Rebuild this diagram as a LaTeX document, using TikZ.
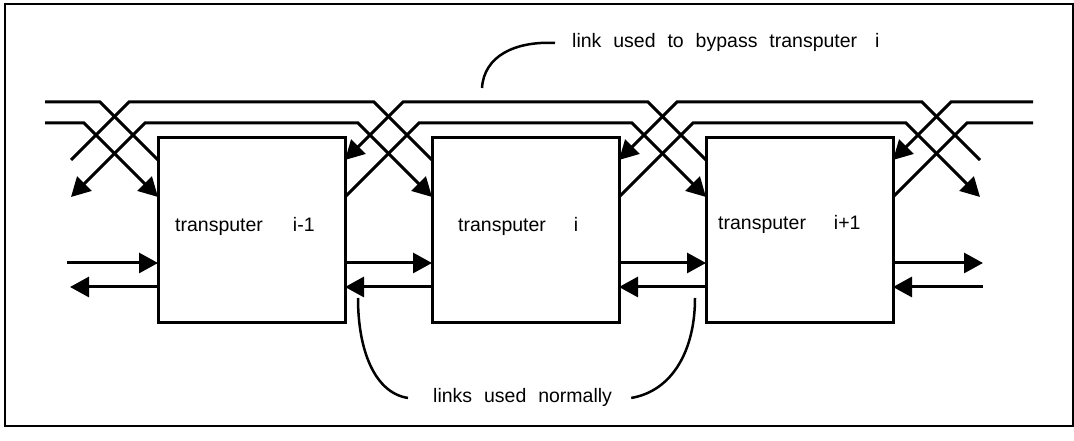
\documentclass[tikz,border=0pt]{standalone}
\usepackage{fontspec}
\setmainfont{Liberation Sans}[WordSpace=2.2]
\usetikzlibrary{calc,positioning,arrows.meta}

\tikzset{
  tbox/.style={draw, line width=3pt, minimum width=187pt, minimum height=185pt, outer sep=0pt},
  link/.style={line width=3pt},
  linkarrow/.style={-{Triangle[length=19pt,width=20pt]}},
  note/.style={line width=2.5pt},
  lbl/.style={inner sep=0pt, font=\fontsize{19.5}{22}\selectfont}
}

\begin{document}
\begin{tikzpicture}[x=1pt, y=1pt]
  \useasboundingbox (0,0) rectangle (1074,441);
  \draw[line width=1.5pt] (5,15) rectangle (1073,437);

  % levels
  \coordinate (up) at (0,339);
  \coordinate (lo) at (0,318);
  \coordinate (ha) at (0,281);
  \coordinate (hb) at (0,244);
  \coordinate (hin) at (0,178);
  \coordinate (hout) at (0,154);

  % transputers
  \node[tbox] (t1) at (251.5,210.5) {};
  \node[tbox, right=87pt of t1] (t2) {};
  \node[tbox, right=87pt of t2] (t3) {};

  \node[lbl, anchor=base west] (n1) at (175,209) {transputer\hspace{30pt}i-1};
  \node[lbl, anchor=base west] (n2) at (458,209) {transputer\hspace{28pt}i};
  \node[lbl, anchor=base west] (n3) at (718,211) {transputer\hspace{28pt}i+1};

  % free ends
  \coordinate (w0) at (71,210.5);
  \coordinate (e4) at (980,210.5);
  \coordinate (wu) at (45,339);
  \coordinate (wl) at (45,318);
  \coordinate (eu) at (1033,339);
  \coordinate (el) at (1033,318);
  \coordinate (wa) at (67,178);
  \coordinate (wb) at (70,154);
  \coordinate (ea) at (983,178);
  \coordinate (eb) at (983,154);

  % bypass links
  \draw[link] (wu) -- ($(t1.west |- up)+(-58,0)$) -- (t1.west |- ha);
  \draw[link, linkarrow] (wl) -- ($(t1.west |- lo)+(-74,0)$) -- (t1.west |- hb);

  \draw[link] (w0 |- ha) -- ($(w0 |- up)+(58,0)$) -- ($(t2.west |- up)+(-58,0)$) -- (t2.west |- ha);
  \draw[link, {Triangle[length=19pt,width=20pt]}-{Triangle[length=19pt,width=20pt]}]
    (w0 |- hb) -- ($(w0 |- lo)+(74,0)$) -- ($(t2.west |- lo)+(-74,0)$) -- (t2.west |- hb);

  \draw[link, linkarrow] (t3.west |- ha) -- ($(t3.west |- up)+(-58,0)$) -- ($(t1.east |- up)+(58,0)$) -- (t1.east |- ha);
  \draw[link, linkarrow] (t1.east |- hb) -- ($(t1.east |- lo)+(74,0)$) -- ($(t3.west |- lo)+(-74,0)$) -- (t3.west |- hb);

  \draw[link, linkarrow] (e4 |- ha) -- ($(e4 |- up)+(-58,0)$) -- ($(t2.east |- up)+(58,0)$) -- (t2.east |- ha);
  \draw[link, linkarrow] (t2.east |- hb) -- ($(t2.east |- lo)+(74,0)$) -- ($(e4 |- lo)+(-74,0)$) -- (e4 |- hb);

  \draw[link, linkarrow] (eu) -- ($(t3.east |- up)+(58,0)$) -- (t3.east |- ha);
  \draw[link] (t3.east |- hb) -- ($(t3.east |- lo)+(74,0)$) -- (el);

  % normal links
  \draw[link, linkarrow] (wa) -- (t1.west |- hin);
  \draw[link, linkarrow] (t1.west |- hout) -- (wb);
  \draw[link, linkarrow] (t1.east |- hin) -- (t2.west |- hin);
  \draw[link, linkarrow] (t2.west |- hout) -- (t1.east |- hout);
  \draw[link, linkarrow] (t2.east |- hin) -- (t3.west |- hin);
  \draw[link, linkarrow] (t3.west |- hout) -- (t2.east |- hout);
  \draw[link, linkarrow] (t3.east |- hin) -- (ea);
  \draw[link, linkarrow] (eb) -- (t3.east |- hout);

  % notes
  \node[lbl, anchor=base west] (bypass) at (572,393) {link used to bypass transputer\hspace{18pt}i};
  \node[lbl, anchor=base west] (normal) at (433,38) {links used normally};

  \coordinate (bp) at (482,353);
  \coordinate (nl) at (358,143);
  \coordinate (nr) at (695,143);
  \draw[note] (bp) .. controls (484,385) and (515,400) .. ([xshift=-17pt]bypass.west);
  \draw[note] (nl) .. controls (358,90) and (375,48) .. ([xshift=-25pt]normal.west);
  \draw[note] (nr) .. controls (695,90) and (672,50) .. ([xshift=19pt]normal.east);
\end{tikzpicture}
\end{document}
